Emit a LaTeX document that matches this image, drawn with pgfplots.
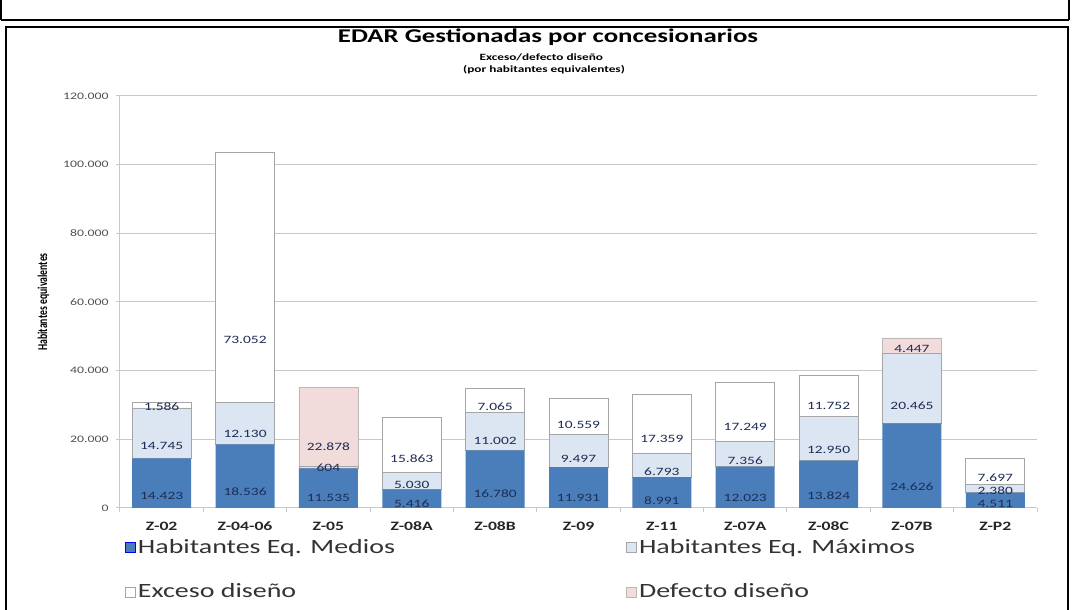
\documentclass[border=0pt]{standalone}
\usepackage{graphicx}
\usepackage{pgfplots}
\pgfplotsset{compat=1.18}
\usepackage{fontspec}
\setmainfont{Carlito}[FakeStretch=1.38]
\newfontfamily\plainc{Carlito}
\definecolor{medios}{RGB}{74,126,187}
\definecolor{maximos}{RGB}{220,230,242}
\definecolor{defecto}{RGB}{242,220,219}
\definecolor{labcol}{RGB}{30,45,85}
\definecolor{gridc}{RGB}{200,200,200}
\definecolor{edgec}{RGB}{165,165,165}
\definecolor{tickc}{RGB}{80,80,80}
\pgfplotsset{
  midlabel/.style={
    visualization depends on={rawy \as \rawy},
    nodes near coords={\pgfmathfloatifflags{\pgfplotspointmeta}{0}{}{\textcolor{labcol}{\pgfmathprintnumber[fixed,precision=0,1000 sep={.}]{\pgfplotspointmeta}}}},
    every node near coord/.append style={
      /utils/exec={\pgfkeys{/pgf/fpu=true,/pgf/fpu/output format=fixed}\pgfmathsetmacro\myshift{-0.00064375*\rawy}\pgfkeys{/pgf/fpu=false}},
      anchor=center, yshift=\myshift pt, font=\fontsize{8.4}{9}\selectfont, text=labcol, inner sep=0pt
    },
  },
  sqlegend/.style={legend image code/.code={\draw[##1] (0pt,-3.75pt) rectangle (7.5pt,3.75pt);}},
}
\begin{document}
\begin{tikzpicture}
\path[use as bounding box] (0,0) rectangle (804pt,457.5pt);
% frames
\draw[line width=1.6pt] (0.75pt,442.5pt) -- (801.75pt,442.5pt);
\draw[line width=1.6pt] (0.75pt,442.5pt) -- (0.75pt,470pt);
\draw[line width=1.6pt] (801.75pt,442.5pt) -- (801.75pt,470pt);
\draw[line width=1.9pt] (4.5pt,-10pt) rectangle (801pt,437.25pt);
% titles
\node[anchor=base, font=\bfseries\fontsize{14.6}{16}\selectfont] at (411pt,425.25pt) {EDAR Gestionadas por concesionarios};
\node[anchor=base, font=\bfseries\fontsize{7.2}{8}\selectfont] at (406pt,411.75pt) {Exceso/defecto diseño};
\node[anchor=base, font=\bfseries\fontsize{7.2}{8}\selectfont] at (408pt,402.75pt) {(por habitantes equivalentes)};
\node[rotate=90] at (32.6pt,231pt) {\scalebox{1}[1.38]{\plainc\bfseries\fontsize{7.3}{8}\selectfont Habitantes equivalentes}};
\begin{axis}[
  at={(90pt,76.5pt)}, anchor=south west, scale only axis,
  width=687.75pt, height=309pt,
  ybar stacked, bar width=44.25pt,
  xmin=-0.5, xmax=10.5, ymin=0, ymax=120000,
  xtick={-0.5,0.5,...,10.5}, xticklabels={},
  extra x ticks={0,1,2,3,4,5,6,7,8,9,10},
  extra x tick labels={Z-02,Z-04-06,Z-05,Z-08A,Z-08B,Z-09,Z-11,Z-07A,Z-08C,Z-07B,Z-P2},
  extra x tick style={major tick length=0pt, xticklabel style={font=\bfseries\fontsize{9.6}{10}\selectfont, text=black!85, anchor=base, yshift=-17.25pt}},
  ytick={0,20000,40000,60000,80000,100000,120000},
  scaled y ticks=false,
  /pgf/number format/fixed,
  /pgf/number format/precision=0,
  /pgf/number format/1000 sep={.},
  /pgf/number format/assume math mode=true,
  yticklabel style={font=\fontsize{7.5}{8}\selectfont, text=tickc, xshift=-2pt},
  ymajorgrids, grid style={gridc, line width=0.75pt},
  axis lines*=left, axis line style={gridc, line width=0.75pt},
  tick align=outside, major tick length=3pt, tick style={gridc, line width=0.75pt},
  legend columns=2,
  legend cell align=left,
  legend style={at={(axis description cs:0.0055,-0.07)}, anchor=north west, draw=none, fill=none,
    inner sep=0pt, font=\fontsize{15.2}{18}\selectfont, text=black!80, row sep=18.5pt,
    nodes={inner sep=1.5pt},
    /tikz/every even column/.append style={column sep=172pt}},
]
\addplot+[sqlegend, midlabel, fill=medios, draw=none] coordinates {
 (0,14423) (1,18536) (2,11535) (3,5416) (4,16780) (5,11931) (6,8991) (7,12023) (8,13824) (9,24626) (10,4511)};
\addplot+[sqlegend, midlabel, fill=maximos, draw=edgec, line width=0.5pt] coordinates {
 (0,14745) (1,12130) (2,604) (3,5030) (4,11002) (5,9497) (6,6793) (7,7356) (8,12950) (9,20465) (10,2380)};
\addplot+[sqlegend, midlabel, fill=white, draw=edgec, line width=0.5pt] coordinates {
 (0,1586) (1,73052) (2,0) (3,15863) (4,7065) (5,10559) (6,17359) (7,17249) (8,11752) (9,0) (10,7697)};
\addplot+[sqlegend, midlabel, fill=defecto, draw=edgec!70!defecto, line width=0.5pt] coordinates {
 (0,0) (1,0) (2,22878) (3,0) (4,0) (5,0) (6,0) (7,0) (8,0) (9,4447) (10,0)};
\legend{Habitantes Eq. Medios, Habitantes Eq. Máximos, Exceso diseño, Defecto diseño}
\end{axis}
\end{tikzpicture}
\end{document}
